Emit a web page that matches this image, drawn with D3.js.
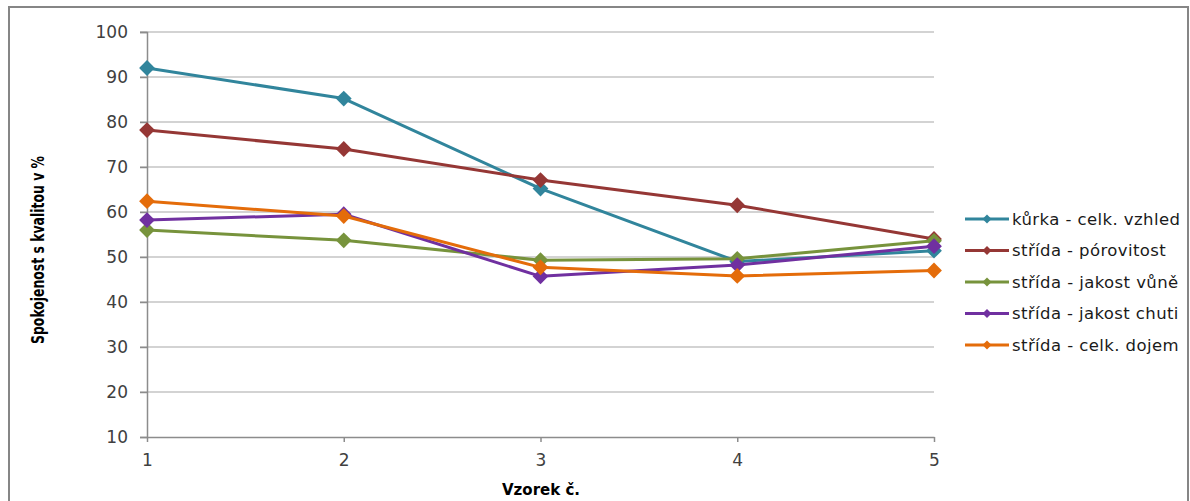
<!DOCTYPE html>
<html>
<head>
<meta charset="utf-8">
<script src="https://cdn.jsdelivr.net/npm/d3@7"></script>
<style>
  html, body { margin: 0; padding: 0; background: #fff; }
  svg { display: block; }
</style>
</head>
<body>
<svg id="chart" width="1190" height="501"></svg>
<script>
// Samples (x axis) and tick values
const samples = [1, 2, 3, 4, 5];
const yTicks = [10, 20, 30, 40, 50, 60, 70, 80, 90, 100];

// Series names and satisfaction values (%)
const seriesNames = [
  "kůrka - celk. vzhled",
  "střída - pórovitost",
  "střída - jakost vůně",
  "střída - jakost chuti",
  "střída - celk. dojem"
];
const kurkaVzhled   = [92.0, 85.2, 65.2, 49.0, 51.4];
const stridaPorov   = [78.2, 74.0, 67.1, 61.5, 54.0];
const stridaVune    = [56.0, 53.7, 49.3, 49.6, 53.6];
const stridaChut    = [58.2, 59.5, 45.7, 48.2, 52.4];
const stridaDojem   = [62.4, 59.1, 47.7, 45.8, 47.0];
const seriesValues = [kurkaVzhled, stridaPorov, stridaVune, stridaChut, stridaDojem];
const seriesColors = ["#31859C", "#953735", "#77933C", "#7030A0", "#E46C0A"];

const svg = d3.select("#chart");

// outer chart frame
svg.append("rect")
  .attr("x", 9).attr("y", 7)
  .attr("width", 1179).attr("height", 520)
  .attr("fill", "#fff")
  .attr("stroke", "#868686")
  .attr("stroke-width", 2);

const x = d3.scalePoint().domain(samples).range([147, 934]);
const y = d3.scaleLinear().domain([10, 100]).range([437, 32]);

// horizontal gridlines
svg.append("g")
  .selectAll("line")
  .data(yTicks.filter(t => t !== 10))
  .join("line")
  .attr("x1", 140).attr("x2", x(5))
  .attr("y1", d => y(d)).attr("y2", d => y(d))
  .attr("stroke", "#C4C4C4")
  .attr("stroke-width", 1.5);

// y axis
const yAxis = svg.append("g")
  .attr("transform", `translate(${x(1)},0)`)
  .call(d3.axisLeft(y).tickValues(yTicks).tickSize(7).tickPadding(12));
yAxis.select(".domain").attr("stroke", "#8C8C8C").attr("stroke-width", 1.5);
yAxis.selectAll(".tick line").attr("stroke", "#8C8C8C").attr("stroke-width", 1.5);
yAxis.selectAll(".tick text")
  .attr("font-family", "DejaVu Sans, sans-serif")
  .attr("font-size", 17)
  .attr("fill", "#404040");

// x axis
const xAxis = svg.append("g")
  .attr("transform", `translate(0,${y(10)})`)
  .call(d3.axisBottom(x).tickSize(5).tickPadding(12).tickSizeOuter(0));
xAxis.select(".domain").attr("stroke", "#8C8C8C").attr("stroke-width", 1.5);
xAxis.selectAll(".tick line").attr("stroke", "#8C8C8C").attr("stroke-width", 1.5);
xAxis.selectAll(".tick text")
  .attr("font-family", "DejaVu Sans, sans-serif")
  .attr("font-size", 17)
  .attr("fill", "#404040");

// axis titles
svg.append("text")
  .attr("transform", "translate(44,250) rotate(-90)")
  .attr("text-anchor", "middle")
  .attr("font-family", "Liberation Sans Narrow, DejaVu Sans Condensed, sans-serif")
  .attr("font-weight", "bold")
  .attr("font-size", 17)
  .attr("textLength", 188)
  .attr("lengthAdjust", "spacingAndGlyphs")
  .attr("fill", "#000")
  .text("Spokojenost s kvalitou v %");

svg.append("text")
  .attr("x", 541).attr("y", 495)
  .attr("text-anchor", "middle")
  .attr("font-family", "DejaVu Sans, sans-serif")
  .attr("font-weight", "bold")
  .attr("font-size", 15)
  .attr("fill", "#000")
  .text("Vzorek č.");

// series lines and diamond markers
const line = d3.line().x((d, i) => x(samples[i])).y(d => y(d));
const diamond = d3.symbol().type(d3.symbolSquare).size(125);

seriesValues.forEach((vals, s) => {
  const g = svg.append("g");
  g.append("path")
    .datum(vals)
    .attr("d", line)
    .attr("fill", "none")
    .attr("stroke", seriesColors[s])
    .attr("stroke-width", 3)
    .attr("stroke-linejoin", "round");
  g.selectAll("path.marker")
    .data(vals)
    .join("path")
    .attr("class", "marker")
    .attr("d", diamond)
    .attr("transform", (d, i) => `translate(${x(samples[i])},${y(d)}) rotate(45)`)
    .attr("fill", seriesColors[s]);
});

// legend
const legend = svg.append("g");
const rowY = i => 219 + i * 31.5;
const legendMarker = d3.symbol().type(d3.symbolSquare).size(40);
const legendTexts = [];
seriesNames.forEach((name, i) => {
  const row = legend.append("g").attr("transform", `translate(0,${rowY(i)})`);
  row.append("line")
    .attr("x1", 965).attr("x2", 1009)
    .attr("y1", 0).attr("y2", 0)
    .attr("stroke", seriesColors[i])
    .attr("stroke-width", 3);
  row.append("path")
    .attr("d", legendMarker)
    .attr("transform", "translate(987,0) rotate(45)")
    .attr("fill", seriesColors[i]);
  legendTexts.push(row.append("text")
    .attr("x", 1012).attr("y", 0)
    .attr("dy", "0.36em")
    .attr("font-family", "DejaVu Sans, sans-serif")
    .attr("font-size", 16.5)
    .attr("fill", "#1a1a1a")
    .text(name));
});
// spread legend labels evenly so the first one ends just inside the frame
const firstLen = legendTexts[0].node().getComputedTextLength();
const spread = 168 / firstLen;
legendTexts.forEach(t => {
  const len = t.node().getComputedTextLength();
  t.attr("textLength", len * spread).attr("lengthAdjust", "spacing");
});
</script>
</body>
</html>
